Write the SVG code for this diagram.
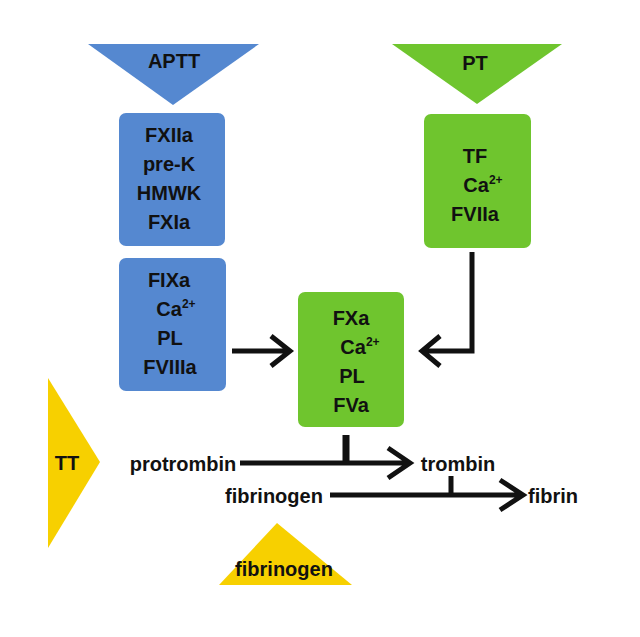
<svg xmlns="http://www.w3.org/2000/svg" width="640" height="637" viewBox="0 0 640 637">
<style>
text{font-family:"Liberation Sans Narrow","Liberation Sans",Arial,sans-serif;font-weight:bold;font-size:20px;fill:#111;text-anchor:middle}
.b{fill:#5588d0}.g{fill:#6fc52e}.y{fill:#f7d000}
.c{stroke:#111;stroke-width:5;fill:none;stroke-linejoin:miter}
sup{font-size:12px}
</style>
<rect width="640" height="637" fill="#fff"/>
<g id="aptt"><polygon class="b" points="88,44 259,44 173,105"/><text x="174" y="68">APTT</text></g>
<g id="pt"><polygon class="g" points="392,44 562,44 477,104"/><text x="475" y="70">PT</text></g>
<g id="contact"><rect class="b" x="119" y="113" width="106" height="133" rx="7"/>
<text x="169" y="142">FXIIa</text><text x="169" y="171">pre-K</text><text x="169" y="200">HMWK</text><text x="169" y="229">FXIa</text></g>
<g id="tenase"><rect class="b" x="119" y="258" width="107" height="133" rx="7"/>
<text x="169" y="287">FIXa</text><text x="176" y="316">Ca<tspan font-size="12" dy="-8">2+</tspan></text><text x="170" y="345">PL</text><text x="170" y="374">FVIIIa</text></g>
<g id="tf"><rect class="g" x="424" y="114" width="107" height="134" rx="7"/>
<text x="475" y="163">TF</text><text x="483" y="192">Ca<tspan font-size="12" dy="-8">2+</tspan></text><text x="475" y="221">FVIIa</text></g>
<g id="prothrombinase"><rect class="g" x="298" y="292" width="106" height="135" rx="7"/>
<text x="351" y="325">FXa</text><text x="360" y="354">Ca<tspan font-size="12" dy="-8">2+</tspan></text><text x="352" y="383">PL</text><text x="351" y="412">FVa</text></g>
<g id="tt"><polygon class="y" points="48,378 100,462 48,548"/><text x="67" y="470">TT</text></g>
<g id="fibtri"><polygon class="y" points="277,523 352,585 219,585"/><text x="284" y="576">fibrinogen</text></g>
<g id="labels">
<text x="183" y="471">protrombin</text><text x="458" y="471">trombin</text>
<text x="274" y="503">fibrinogen</text><text x="553" y="503">fibrin</text></g>
<g id="connectors">
<path class="c" d="M232,351 H290 M271,336 L290,351 L271,366"/>
<path class="c" d="M472,252 V351 H422 M440,336 L422,351 L440,366"/>
<path class="c" d="M240,463 H410 M345,435 V463 M345,463 M347,435 V463 M388,448 L410,463 L388,478"/>
<path class="c" d="M330,495 H523 M451,476 V495 M500,480 L523,495 L500,510"/>
</g>
</svg>
